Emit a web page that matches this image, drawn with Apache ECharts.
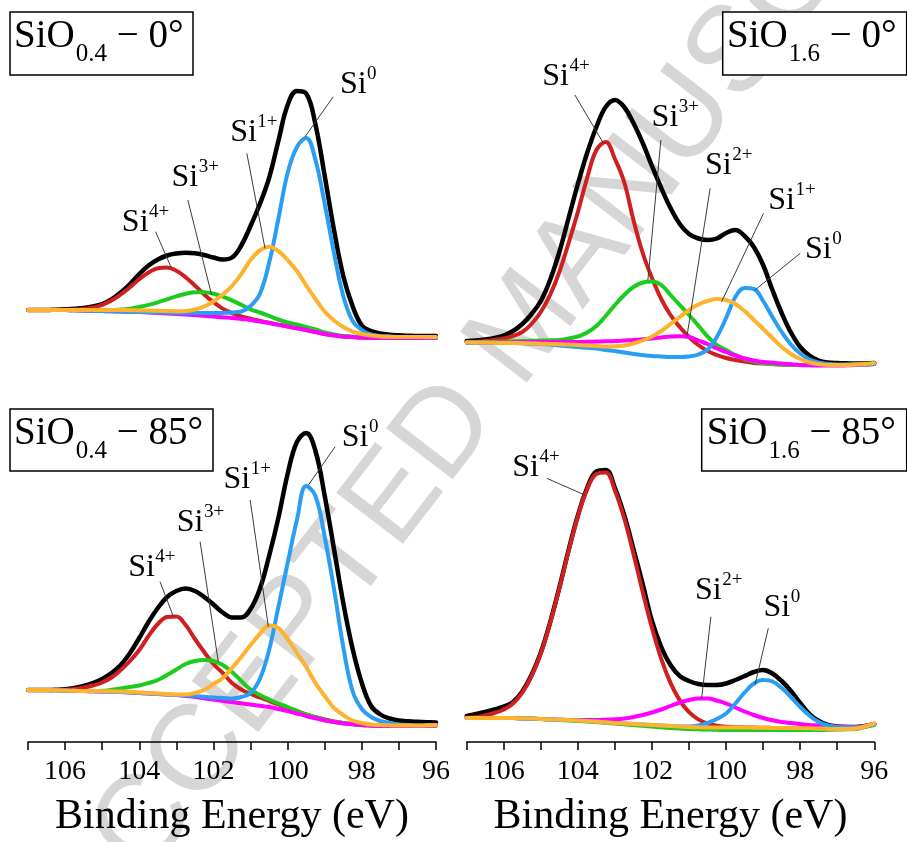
<!DOCTYPE html>
<html>
<head>
<meta charset="utf-8">
<script src="https://cdn.jsdelivr.net/npm/echarts/dist/echarts.min.js"></script>
<style>
  html, body { margin: 0; padding: 0; background: #ffffff; }
  #chart { width: 907px; height: 842px; }
</style>
</head>
<body>
<div id="chart"></div>
<script>
// Binding-energy grid (eV) shared by every Si 2p curve, 0.25 eV steps
const energy = [107, 106.75, 106.5, 106.25, 106, 105.75, 105.5, 105.25, 105, 104.75, 104.5, 104.25,
                104, 103.75, 103.5, 103.25, 103, 102.75, 102.5, 102.25, 102, 101.75, 101.5, 101.25,
                101, 100.75, 100.5, 100.25, 100, 99.75, 99.5, 99.25, 99, 98.75, 98.5, 98.25,
                98, 97.75, 97.5, 97.25, 97, 96.75, 96.5, 96.25, 96];
const tickLabels = [106, 104, 102, 100, 98, 96];

// SiO0.4, take-off 0°
const tlEnvelope = [40, 40, 40, 40.3, 40.7, 41.2, 42, 43.5, 46, 50.5, 57.5, 66, 76, 84.5, 90.5, 94.5, 96.5, 97.3, 96.8, 95, 92.5, 90.5, 92.5, 104.5, 124, 146, 172, 209, 245, 259, 256.5, 225.5, 174, 120, 74, 44, 24.5, 19, 16.5, 15.3, 14.7, 14.3, 14, 14, 14];
const tlSi4 = [40, 40, 40, 40.1, 40.3, 40.4, 41.1, 42.5, 45.2, 49.4, 55.5, 62.8, 70.8, 77.5, 81.8, 82.4, 79.2, 72.8, 64.5, 55.6, 47.8, 41.4, 36.9, 33.5, 31.2, 29, 27.2, 25.4, 23.5, 21.7, 20, 18, 16, 14.7, 13.5, 13, 12.5, 12.2, 12, 12, 12, 12, 12, 12, 12];
const tlSi3 = [40, 40, 40, 40, 40, 39.7, 39.6, 39.5, 39.5, 39.7, 40.4, 41.3, 43.1, 45.1, 47.7, 50.7, 53.7, 56.2, 57.8, 57.7, 56.3, 53.4, 49.7, 45.2, 40.7, 37.5, 34, 30.5, 27.5, 25.5, 23, 20.5, 17.5, 15.5, 14, 13.2, 12.5, 12.2, 12, 12, 12, 12, 12, 12, 12];
const tlSi2 = [40, 40, 40, 40, 40, 39.7, 39.5, 39.2, 39, 38.7, 38.5, 38.2, 38, 37.5, 37, 36.5, 36, 35.5, 35, 34.2, 33.5, 32.7, 32, 31, 30, 28.5, 27, 25.3, 23.5, 21.7, 20, 18, 16, 14.7, 13.5, 13, 12.5, 12.2, 12, 12, 12, 12, 12, 12, 12];
const tlSi1 = [40, 40, 40, 40, 40, 40, 40, 40, 40, 40, 40, 39.8, 39.6, 39.4, 39.2, 39, 38.8, 39, 40.5, 43.5, 48.5, 55.5, 64, 76, 90, 99.5, 103.3, 99, 90, 79, 64.5, 51, 38.5, 29.5, 23, 18.5, 16, 14.5, 13.5, 13.2, 13, 13, 13, 13, 13];
const tlSi0 = [40, 40, 40, 40, 40, 39.7, 39.5, 39.2, 39, 38.7, 38.5, 38.2, 38, 37.8, 37.5, 37.3, 37, 37, 37, 37, 37, 37, 37.5, 38.5, 44, 56, 87, 131, 177, 203, 212, 190, 146, 97, 54, 29, 20, 15.5, 14, 13.5, 13, 13, 13, 12.8, 12.5];

// SiO1.6, take-off 0°
const trEnvelope = [34, 34.5, 35.5, 37, 39.5, 44, 51, 61, 74, 95, 123, 157, 191, 222, 248, 268, 275, 268, 252, 232, 209, 187, 167, 151, 141, 136.5, 135, 136.5, 142, 145, 139, 128, 110, 85, 62, 42.5, 28, 19.5, 14.5, 12.5, 12, 11.7, 11.5, 11.5, 12];
const trSi4 = [32.5, 33, 34, 35, 36.5, 39, 43, 51, 63, 80, 103, 132, 163, 197, 225, 233, 216, 193, 155, 122, 97, 76, 60, 48, 38, 30, 24, 20, 17, 15, 13.5, 12, 11.5, 11, 10.5, 10.2, 10, 10, 10, 10, 10, 10.2, 10.5, 10.7, 11];
const trSi3 = [32.5, 32.7, 33, 33.2, 33.5, 33.7, 34, 34.2, 34.5, 34.7, 35, 36.5, 38.5, 42.5, 49, 59, 70, 80, 88, 92.5, 93.5, 90, 80, 70, 60, 49.5, 38.5, 30, 25, 20, 16, 13.5, 12, 11, 10.5, 10.2, 10, 10, 10, 10, 10, 10.2, 10.5, 10.7, 11];
const trSi2 = [32.5, 32.5, 32.5, 32.5, 32.5, 32.7, 33, 33, 33, 33, 33, 33, 33, 33.2, 33.5, 33.7, 34, 34.5, 35, 35.7, 36.5, 37.5, 38.5, 38.7, 38, 34.5, 31, 26.5, 23, 19.5, 16.5, 14.5, 13, 12.2, 11.5, 10.7, 10, 9.7, 9.5, 9.5, 9.5, 9.7, 10, 10.5, 11];
const trSi1 = [32.5, 32.5, 32.5, 32.2, 32, 32, 31.8, 31.5, 31.3, 31, 30.8, 30.5, 30, 29.5, 29, 28.5, 28.7, 29.5, 31.5, 34.5, 38.5, 44, 51, 58, 65, 70.5, 74, 76, 75, 71, 64, 55, 46, 37, 28, 21, 16, 12.5, 11, 10, 10, 10, 10.5, 11, 12];
const trSi0 = [32.5, 32.5, 32.5, 32.2, 32, 32, 31.7, 31.3, 31, 30.5, 29.5, 28.7, 28, 27.2, 26.5, 25, 24, 22.5, 21, 20, 19, 18.5, 18, 18, 18.5, 20.5, 25.5, 38, 57, 78, 87, 86, 74, 58, 43, 30.5, 21.5, 15.5, 12.5, 11, 10.5, 10.5, 10.5, 10.7, 11];

// SiO0.4, take-off 85°
const blEnvelope = [52, 52, 52, 52.2, 52.7, 54, 56, 59, 63, 69, 77, 89, 104, 120, 134, 145, 151, 153.5, 151, 145, 137.5, 129.5, 124.5, 124.5, 133, 153, 186, 224, 268, 300, 309, 291, 246, 193, 139, 93.5, 59, 36, 27.5, 23.5, 21.5, 20.7, 20.2, 19.8, 19.5];
const blSi4 = [52, 52, 52, 52, 52.2, 53, 54.5, 56.5, 59.5, 64.5, 72, 81, 92, 106, 118, 125, 125.5, 117, 103, 90, 78, 69, 59, 52.5, 48, 44.5, 41, 37.5, 34, 31, 27.5, 25, 22.5, 20.5, 19, 18, 17, 16.5, 16, 16, 16, 16, 16, 16.2, 16.5];
const blSi3 = [52, 52, 52, 51.7, 51.5, 51.2, 51, 51, 51.2, 52.2, 53.5, 55, 56.5, 59, 62, 67, 72.5, 78, 81, 82, 81, 77, 70, 61, 52.5, 47, 42.5, 38.5, 35, 31, 27.5, 24.5, 22, 20.3, 19, 18, 17, 16.5, 16, 16, 16, 16, 16, 16.2, 16.5];
const blSi2 = [52, 52, 52, 51.7, 51.5, 51.2, 51, 50.7, 50.5, 50.2, 50, 49.5, 49, 48.5, 48, 47.5, 47, 46, 45, 43.7, 42.5, 41.2, 40, 38.7, 37.5, 36.2, 35, 33, 31, 28.5, 26, 23.7, 21.5, 20, 18.5, 17.7, 17, 16.5, 16, 16, 16, 16, 16, 16.2, 16.5];
const blSi1 = [52, 52, 52, 51.7, 51.5, 51.2, 51, 51, 51, 50.7, 50.5, 50, 49.5, 49, 48.5, 48, 47.5, 47.5, 49, 52, 58, 64, 74, 85, 97, 108, 116.5, 114, 103, 89, 75, 59, 46, 34, 27, 21.5, 19, 17.5, 17, 16.7, 16.5, 16.5, 16.5, 16.7, 17];
const blSi0 = [52, 52, 52, 51.7, 51.5, 51.2, 51, 50.7, 50.5, 50.2, 50, 49.5, 49, 48.5, 48, 47.5, 47, 46.5, 46, 45.2, 44.5, 44, 43.5, 45, 49, 63, 92, 135, 179, 222, 256, 246, 205, 153, 95, 51, 33, 25, 21, 19, 17.5, 17, 16.5, 16.7, 17];

// SiO1.6, take-off 85°
const brEnvelope = [26, 28, 30, 32.5, 35.5, 40, 50.5, 67, 89.5, 119.5, 154.5, 192, 226.5, 254, 270.5, 272, 254, 227, 193, 158, 121, 95, 77, 66, 61, 58, 57, 57, 58.5, 62, 66, 70, 72, 68.5, 61, 51, 39, 28, 21, 17, 15.5, 15, 15, 16, 18];
const brSi4 = [24.3, 24.8, 26.5, 29, 32.5, 38.5, 49.3, 65.8, 88.5, 118.6, 153.5, 190.8, 225.4, 252.6, 268, 269.5, 251.6, 223.7, 188.3, 150, 114.1, 83.2, 59.1, 41.6, 29.8, 22.6, 18.5, 16.4, 15.3, 14.8, 14.6, 14.4, 14.2, 14.1, 14, 14, 14, 13.7, 13.5, 13.2, 13, 13, 13.5, 15.5, 18];
const brSi3 = [24, 24, 24, 24, 24, 24, 23.5, 23.2, 23, 22.5, 22, 21.5, 21, 20.5, 20, 19.2, 18.5, 17.7, 17, 16.2, 15.5, 14.7, 14, 13.5, 13, 12.7, 12.5, 12.2, 12, 12, 12, 12, 12, 12, 12, 12, 12, 12, 12, 12.2, 12.5, 12.7, 13, 15, 17];
const brSi2 = [24, 24, 24, 24, 24, 24, 23.7, 23.5, 23, 22.7, 22.3, 22, 22, 22, 22, 22.3, 22.7, 23.5, 25, 27, 29.5, 32.5, 36, 39.5, 42, 43.5, 43.5, 41.5, 38.5, 34.5, 30.5, 27, 24, 21.7, 20, 19, 18, 17, 16.5, 16, 15.5, 15.2, 15, 16, 18];
const brSi1 = [24, 24, 24, 24, 24, 24, 23.7, 23.5, 23, 22.7, 22.3, 22, 21.5, 21, 20.5, 19.7, 19, 18.5, 18, 17.5, 17, 16.5, 16, 15.5, 15, 14.7, 14.5, 14.5, 14.5, 14.5, 14.5, 14.3, 14.2, 14.1, 14, 14, 14, 13.7, 13.5, 13.2, 13, 13, 13.5, 15.5, 18.5];
const brSi0 = [24, 24, 24, 24, 24, 24, 23.7, 23.5, 23, 22.7, 22.3, 22, 21.5, 21, 20.5, 19.7, 19, 18.5, 18, 17.5, 17, 16.5, 16, 15.5, 15.5, 16.5, 19, 23, 28.5, 38.5, 49.5, 58.5, 62, 60.5, 54, 45, 35, 26.5, 20, 16.5, 15, 14.5, 14.5, 15.5, 18];

// Panel headers: SiOx – angle
const panelSub = ['0.4', '1.6', '0.4', '1.6'];
const panelAngle = ['0°', '0°', '85°', '85°'];

// Peak labels: panel, oxidation state, label anchor, leader start, leader end (eV, counts)
const peakLabels = [
  [0, '4+', [104.47, 117], [103.56, 118.3], [103.13, 81.7]],
  [0, '3+', [103.13, 162], [102.69, 150], [102.05, 55]],
  [0, '1+', [101.55, 206.7], [101.1, 196.7], [100.61, 101.7]],
  [0, '0', [98.59, 255], [98.77, 253.3], [99.53, 213.3]],
  [1, '4+', [104.96, 287.7], [104.08, 280], [103.31, 231.7]],
  [1, '3+', [102.01, 246.7], [101.76, 235], [102.11, 95]],
  [1, '2+', [100.57, 198.3], [100.43, 186.7], [101.06, 37.7]],
  [1, '1+', [98.86, 163.3], [98.99, 161.7], [100.12, 73.3]],
  [1, '0', [97.87, 115], [98.0, 121.7], [99.22, 85]],
  [2, '4+', [104.3, 163.7], [103.44, 160.3], [103.08, 125.3]],
  [2, '3+', [102.99, 208.7], [102.36, 200.3], [101.87, 80.3]],
  [2, '1+', [101.73, 252], [101.01, 242], [100.52, 115.3]],
  [2, '0', [98.54, 293.7], [98.72, 295.3], [99.44, 257]],
  [3, '4+', [105.77, 263.7], [104.84, 263.7], [103.81, 247]],
  [3, '2+', [100.84, 140.3], [100.41, 125.3], [100.66, 43.7]],
  [3, '0', [98.99, 123.7], [98.86, 113.7], [99.22, 57]]
];

const panels = [
  [tlEnvelope, tlSi4, tlSi3, tlSi2, tlSi0, tlSi1],
  [trEnvelope, trSi4, trSi3, trSi2, trSi0, trSi1],
  [blEnvelope, blSi4, blSi3, blSi2, blSi0, blSi1],
  [brEnvelope, brSi4, brSi3, brSi2, brSi0, brSi1]
];
const curveColors = ['#000000', '#d01f1f', '#1ccc1c', '#ff00ff', '#2a9ef5', '#ffb22c'];
const curveWidths = [4.5, 4, 4, 4, 4, 4];

const SERIF = '"Liberation Serif", "Times New Roman", serif';
const gridBoxes = [
  { left: 28, top: 50, width: 408, height: 300 },
  { left: 466.7, top: 75, width: 407.6, height: 300 },
  { left: 28, top: 412, width: 408, height: 330 },
  { left: 466.7, top: 412, width: 407.6, height: 330 }
];
const yMax = [300, 300, 330, 330];
const headerBoxes = [
  { x: 10, y: 12, w: 183, h: 63, tx: 14, base: 50 },
  { x: 722.7, y: 12, w: 184, h: 63, tx: 727, base: 50 },
  { x: 10, y: 409, w: 203, h: 62, tx: 14, base: 446.7 },
  { x: 701.7, y: 409, w: 205, h: 62, tx: 706.7, base: 446.7 }
];

const chart = echarts.init(document.getElementById('chart'), null, { renderer: 'canvas' });

const xAxes = gridBoxes.map((g, i) => ({
  gridIndex: i,
  type: 'value',
  min: 96,
  max: 107,
  interval: 1,
  inverse: true,
  show: i >= 2,
  axisLine: { show: true, lineStyle: { color: '#000', width: 1.5 } },
  axisTick: { show: true, length: 8, lineStyle: { color: '#000', width: 1.5 } },
  axisLabel: {
    formatter: v => (tickLabels.indexOf(v) >= 0 ? String(v) : ''),
    fontSize: 28, fontFamily: SERIF, color: '#000', margin: 16
  },
  splitLine: { show: false },
  name: 'Binding Energy (eV)',
  nameLocation: 'middle',
  nameGap: 54,
  nameTextStyle: { fontSize: 42, fontFamily: SERIF, color: '#000' }
}));

const yAxes = gridBoxes.map((g, i) => ({
  gridIndex: i, type: 'value', min: 0, max: yMax[i], show: false
}));

const series = [];
panels.forEach((curves, p) => {
  curves.forEach((vals, c) => {
    series.push({
      type: 'line',
      xAxisIndex: p,
      yAxisIndex: p,
      data: energy.map((e, k) => [e, vals[k]]),
      smooth: 0.4,
      showSymbol: false,
      silent: true,
      z: 2 + c,
      lineStyle: { color: curveColors[c], width: curveWidths[c], cap: 'round', join: 'round' }
    });
  });
});

chart.setOption({
  animation: false,
  grid: gridBoxes.map(g => Object.assign({ containLabel: false }, g)),
  xAxis: xAxes,
  yAxis: yAxes,
  series: series
});

// ---- text helpers (baseline placement for super/subscripts) ----
const ctx = document.createElement('canvas').getContext('2d');
function textW(str, size) {
  ctx.font = size + 'px ' + SERIF;
  return ctx.measureText(str).width;
}
function textAt(str, x, baseline, size, z) {
  return {
    type: 'text', z: z || 10,
    style: {
      text: str, x: x, y: baseline - 0.84 * size,
      fontSize: size, fontFamily: SERIF, fill: '#000',
      align: 'left', verticalAlign: 'top'
    }
  };
}

const graphics = [];

// Watermark across the figure
graphics.push({
  type: 'text', z: -5, x: 527, y: 327, rotation: 0.916,
  style: {
    text: 'ACCEPTED MANUSCRIPT', x: 0, y: 0,
    fontSize: 122, fontFamily: '"Liberation Sans", Arial, sans-serif',
    fill: '#d6d6d6', align: 'center', verticalAlign: 'middle'
  }
});

// Panel headers
headerBoxes.forEach((b, i) => {
  graphics.push({
    type: 'rect', z: 8,
    shape: { x: b.x, y: b.y, width: b.w, height: b.h },
    style: { fill: '#ffffff', stroke: '#000', lineWidth: 1.5 }
  });
  const main = 'SiO';
  const w1 = textW(main, 39);
  const w2 = textW(panelSub[i], 25);
  graphics.push(textAt(main, b.tx, b.base, 39, 9));
  graphics.push(textAt(panelSub[i], b.tx + w1 + 1, b.base + 13, 25, 9));
  graphics.push(textAt(' \u2212 ' + panelAngle[i], b.tx + w1 + w2 + 1, b.base, 39, 9));
});

// Peak labels with leader lines
peakLabels.forEach(([p, charge, at, from, to]) => {
  const a = chart.convertToPixel({ gridIndex: p }, at);
  const f = chart.convertToPixel({ gridIndex: p }, from);
  const t = chart.convertToPixel({ gridIndex: p }, to);
  graphics.push({
    type: 'line', z: 9,
    shape: { x1: f[0], y1: f[1], x2: t[0], y2: t[1] },
    style: { stroke: '#3a3a3a', lineWidth: 1 }
  });
  const wSi = textW('Si', 32);
  graphics.push(textAt('Si', a[0], a[1], 32, 10));
  graphics.push(textAt(charge, a[0] + wSi + 0.5, a[1] - 15, 19, 10));
});

chart.setOption({ graphic: { elements: graphics } });
</script>
</body>
</html>
